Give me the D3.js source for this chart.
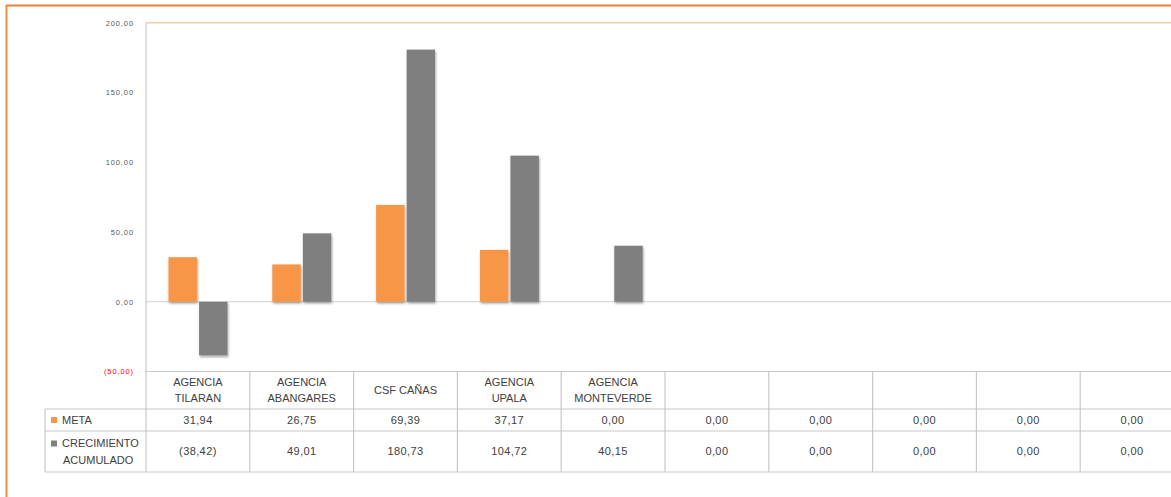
<!DOCTYPE html>
<html>
<head>
<meta charset="utf-8">
<script src="https://cdn.jsdelivr.net/npm/d3@7"></script>
<style>
  html, body { margin: 0; padding: 0; background: #fff; }
  svg { display: block; }
  text { font-family: "Liberation Sans", Arial, sans-serif; }
</style>
</head>
<body>
<svg id="chart" width="1171" height="497"></svg>
<script>
// Agencies (the last five columns of the table are unused and empty)
const categories = [
  ["AGENCIA", "TILARAN"],
  ["AGENCIA", "ABANGARES"],
  ["CSF CAÑAS"],
  ["AGENCIA", "UPALA"],
  ["AGENCIA", "MONTEVERDE"],
  [], [], [], [], []
];
const seriesNames = ["META", "CRECIMIENTO ACUMULADO"];
const metaValues = [31.94, 26.75, 69.39, 37.17, 0.00, 0.00, 0.00, 0.00, 0.00, 0.00];
const crecimientoValues = [-38.42, 49.01, 180.73, 104.72, 40.15, 0.00, 0.00, 0.00, 0.00, 0.00];
const yTicks = [-50, 0, 50, 100, 150, 200];
const seriesColors = ["#F79646", "#7F7F7F"];

const svg = d3.select("#chart");
const W = 1171, H = 497;

// Number format with comma decimal; negatives shown in parentheses
const loc = d3.formatLocale({ decimal: ",", thousands: ".", grouping: [3], currency: ["", ""] });
const f2 = loc.format(",.2f");
const fmt = v => v < 0 ? "(" + f2(-v) + ")" : f2(v);

// Layout
const plotLeft = 146, colW = 103.8;
const plotTop = 22.7, plotBottom = 371.5;
const headerBottom = 409, row1Bottom = 431, row2Bottom = 472;
const legendLeft = 45;

const x = d3.scaleBand()
  .domain(d3.range(categories.length))
  .range([plotLeft, plotLeft + colW * categories.length])
  .paddingInner(0).paddingOuter(0);

const xs = d3.scaleBand()
  .domain(d3.range(seriesNames.length))
  .range([22.5, 81.5])
  .paddingInner(0.07);

const y = d3.scaleLinear().domain([-50, 200]).range([plotBottom, plotTop]);

// Soft shadow under the bars
const defs = svg.append("defs");
const flt = defs.append("filter").attr("id", "shadow")
  .attr("x", "-30%").attr("y", "-10%").attr("width", "160%").attr("height", "130%");
flt.append("feDropShadow")
  .attr("dx", 0.8).attr("dy", 1.8).attr("stdDeviation", 1.3)
  .attr("flood-color", "#000").attr("flood-opacity", 0.35);

// Outer frame
svg.append("line").attr("x1", 6).attr("x2", W).attr("y1", 5.5).attr("y2", 5.5)
  .attr("stroke", "#ED7D31").attr("stroke-width", 2);
svg.append("line").attr("x1", 6.5).attr("x2", 6.5).attr("y1", 5).attr("y2", H)
  .attr("stroke", "#F08A3E").attr("stroke-width", 2);

// Top border of plot area and zero line
svg.append("line").attr("x1", plotLeft).attr("x2", W).attr("y1", y(200)).attr("y2", y(200))
  .attr("stroke", "#F8CBAD").attr("stroke-width", 1.6);
svg.append("line").attr("x1", plotLeft).attr("x2", W).attr("y1", y(0)).attr("y2", y(0))
  .attr("stroke", "#D0D0D0").attr("stroke-width", 1.2);

// Y axis labels
const yAxis = d3.axisLeft(y).tickValues(yTicks).tickSize(0).tickPadding(0).tickFormat(fmt);
const gy = svg.append("g").attr("transform", `translate(134,0)`).call(yAxis);
gy.select(".domain").remove();
gy.selectAll("text")
  .attr("font-size", 7.5)
  .attr("letter-spacing", 0.9)
  .attr("fill", d => d < 0 ? "#FF0000" : "#595959")
  .attr("font-family", "'Liberation Sans', Arial, sans-serif");

// Bars
const seriesData = [metaValues, crecimientoValues];
const barG = svg.append("g").attr("filter", "url(#shadow)");
seriesData.forEach((vals, si) => {
  barG.selectAll(".bar-" + si)
    .data(vals.map((v, i) => ({ v, i })).filter(d => d.v !== 0))
    .join("rect")
    .attr("class", "bar-" + si)
    .attr("x", d => x(d.i) + xs(si))
    .attr("width", xs.bandwidth())
    .attr("y", d => y(Math.max(0, d.v)))
    .attr("height", d => Math.abs(y(d.v) - y(0)))
    .attr("fill", seriesColors[si]);
});

// Data table
const gridColor = "#C8C8C8";
const tableRight = x.range()[1];
const tg = svg.append("g").attr("stroke", gridColor).attr("stroke-width", 1.2);
// Y axis line running through the table
tg.append("line").attr("x1", plotLeft).attr("x2", plotLeft).attr("y1", plotTop).attr("y2", row2Bottom);
// Horizontal table rules
tg.append("line").attr("x1", plotLeft).attr("x2", tableRight).attr("y1", plotBottom).attr("y2", plotBottom);
[headerBottom, row1Bottom, row2Bottom].forEach(yy => {
  tg.append("line").attr("x1", legendLeft).attr("x2", tableRight).attr("y1", yy).attr("y2", yy);
});
// Legend column left edge
tg.append("line").attr("x1", legendLeft).attr("x2", legendLeft).attr("y1", headerBottom).attr("y2", row2Bottom);
// Column separators
d3.range(1, categories.length + 1).forEach(i => {
  const xx = plotLeft + colW * i;
  tg.append("line").attr("x1", xx).attr("x2", xx).attr("y1", plotBottom).attr("y2", row2Bottom);
});

const textColor = "#404040";
const fs = 11;

// Category headers
categories.forEach((lines, i) => {
  const cx = x(i) + x.bandwidth() / 2;
  const midY = (plotBottom + headerBottom) / 2;
  lines.forEach((ln, k) => {
    svg.append("text")
      .attr("x", cx)
      .attr("y", midY + (k - (lines.length - 1) / 2) * 15.5)
      .attr("dy", "0.36em")
      .attr("text-anchor", "middle")
      .attr("font-size", fs)
      .attr("fill", textColor)
      .text(ln);
  });
});

// Value rows
const rowMid = [(headerBottom + row1Bottom) / 2, (row1Bottom + row2Bottom) / 2];
seriesData.forEach((vals, si) => {
  svg.append("g").selectAll("text")
    .data(vals)
    .join("text")
    .attr("x", (d, i) => x(i) + x.bandwidth() / 2)
    .attr("y", rowMid[si])
    .attr("dy", "0.36em")
    .attr("text-anchor", "middle")
    .attr("font-size", fs)
    .attr("letter-spacing", 0.4)
    .attr("fill", textColor)
    .text(d => fmt(d));
});

// Legend keys in the table
svg.append("rect").attr("x", 51).attr("y", rowMid[0] - 3).attr("width", 6).attr("height", 6)
  .attr("fill", seriesColors[0]);
svg.append("text").attr("x", 62).attr("y", rowMid[0]).attr("dy", "0.36em")
  .attr("font-size", fs).attr("fill", textColor).text("META");

svg.append("rect").attr("x", 51).attr("y", rowMid[1] - 11).attr("width", 6).attr("height", 6)
  .attr("fill", seriesColors[1]);
svg.append("text").attr("x", 62).attr("y", rowMid[1] - 8.5).attr("dy", "0.36em")
  .attr("font-size", fs).attr("fill", textColor).text("CRECIMIENTO");
svg.append("text").attr("x", 63).attr("y", rowMid[1] + 8.5).attr("dy", "0.36em")
  .attr("font-size", fs).attr("fill", textColor).text("ACUMULADO");
</script>
</body>
</html>
